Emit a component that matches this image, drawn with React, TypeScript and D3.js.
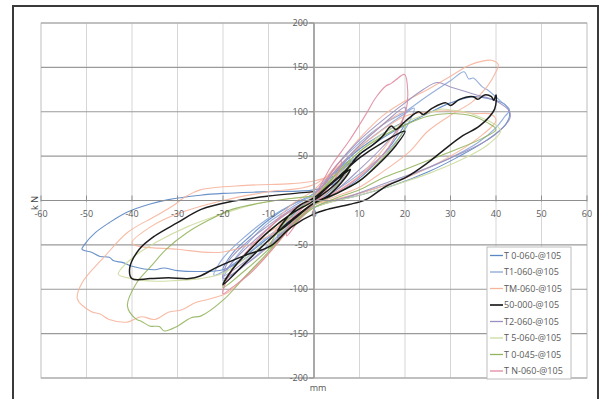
import React from 'react';
import * as d3 from 'd3';

type Pt = [number, number];

// axis ticks
const X_TICKS = [-60, -50, -40, -30, -20, -10, 0, 10, 20, 30, 40, 50, 60];
const Y_TICKS = [-200, -150, -100, -50, 0, 50, 100, 150, 200];

// series names + colours (legend order)
const SERIES_NAMES = [
  'T 0-060-@105',
  'T1-060-@105',
  'TM-060-@105',
  '50-000-@105',
  'T2-060-@105',
  'T 5-060-@105',
  'T 0-045-@105',
  'T N-060-@105',
];
const SERIES_COLORS = ['#5a86c4', '#8aa6d8', '#f6b49c', '#111111', '#9a90bf', '#cddc9e', '#93b55e', '#e08aa0'];

// hysteresis paths (mm, kN)
const T0_060: Pt[] = [
  [0, 0], [3, 20], [6, 38], [8, 45], [6, 25], [3, 8], [0, -2], [-3, -18], [-6, -35], [-8, -42], [-6, -25], [-3, -8], [0, 5],
  [5, 35], [10, 58], [15, 75], [20, 88], [18, 70], [14, 45], [10, 25], [5, 8], [0, -5], [-5, -22], [-10, -42], [-15, -62],
  [-20, -78], [-18, -60], [-14, -40], [-10, -22], [-5, -5], [0, 8],
  [5, 30], [10, 52], [15, 70], [20, 85], [25, 98], [30, 110], [35, 117], [39, 114], [42, 108], [43, 97], [42, 85],
  [38, 68], [32, 50], [25, 32], [18, 18], [10, 6], [5, 0], [0, -8], [-5, -25], [-10, -45], [-15, -65], [-20, -78],
  [-25, -80], [-30, -79], [-33, -76], [-35, -78], [-40, -74], [-42, -70], [-44, -68], [-45, -64], [-47, -63],
  [-49, -58], [-50, -57], [-51, -55], [-50.5, -50],
  [-48, -36], [-45, -25], [-41, -13], [-36, -4], [-32, 1], [-25, 6], [-20, 8], [-10, 10], [0, 12], [5, 20],
];
const T1_060: Pt[] = [
  [0, 0], [4, 25], [8, 50], [6, 30], [3, 10], [0, -5], [-4, -25], [-8, -45], [-6, -25], [-3, -8], [0, 5],
  [5, 35], [10, 60], [15, 80], [20, 98], [22, 104], [20, 80], [16, 55], [10, 30], [5, 12], [0, -3], [-5, -25],
  [-10, -50], [-15, -72], [-20, -90], [-18, -70], [-14, -45], [-10, -25], [-5, -8], [0, 8],
  [5, 40], [10, 65], [15, 85], [20, 100], [25, 118], [30, 135], [33, 145], [34, 137], [35, 138], [37, 128], [38, 125],
  [41, 112], [43, 102], [42, 95], [40, 82], [36, 65], [30, 48], [22, 30], [15, 16], [8, 5], [0, -8], [-10, -40],
  [-15, -62], [-20, -80], [-22, -84], [-20, -65], [-15, -40], [-10, -20], [-5, -5], [0, 5],
];
const TM_060: Pt[] = [
  [0, 0], [4, 25], [8, 45], [6, 25], [2, 5], [0, -5], [-5, -30], [-10, -50], [-8, -30], [-4, -10], [0, 5],
  [5, 35], [10, 62], [15, 85], [20, 100], [18, 78], [14, 50], [10, 28], [5, 10], [0, -5],
  [-10, -40], [-20, -58], [-30, -55], [-40, -48], [-36, -30], [-30, -15], [-20, 0], [-10, 10], [0, 18],
  [10, 60], [20, 95], [26, 100], [30, 101], [35, 98], [39, 97], [40, 90], [36, 70], [30, 50], [20, 25], [10, 8], [0, -5],
  [-5, -20], [-10, -35], [-5, -5], [0, 12],
  [5, 40], [10, 70], [15, 95], [20, 112], [25, 125], [30, 140], [34, 152], [37, 157], [39, 158], [40.5, 153],
  [40, 145], [38, 128],
  [35, 112], [30, 96], [25, 78], [21, 55], [15, 32], [10, 15], [5, 5], [0, -5], [-5, -30], [-10, -60], [-15, -85],
  [-19, -104], [-23, -111], [-26, -115], [-29, -123], [-32, -126], [-35, -134], [-38, -131], [-41, -137], [-45, -134],
  [-47, -128], [-49, -125], [-52, -111], [-51, -93],
  [-46, -63], [-41, -36], [-35, -18], [-31, -6], [-28, 5], [-25, 12], [-15, 17], [-5, 19], [0, 22], [5, 30],
];
const S50_000: Pt[] = [
  [0, 0], [3, 15], [6, 28], [8, 35], [6, 20], [3, 5], [0, -3], [-3, -15], [-6, -28], [-8, -35], [-6, -20], [-3, -5], [0, 3],
  [5, 25], [10, 48], [15, 65], [20, 78], [18, 62], [14, 40], [10, 22], [5, 8], [0, -3], [-5, -22], [-10, -45],
  [-15, -70], [-20, -95], [-18, -78], [-14, -55], [-10, -35], [-5, -15], [0, 0],
  [5, 20], [8, 40], [10, 52], [13, 63], [15, 72], [17, 84], [18, 80], [20, 89], [23, 100], [24, 97], [26, 104],
  [29, 110], [30, 107], [32, 114], [35, 117], [36, 114], [37.5, 119], [39, 117], [39.5, 113], [40, 119],
  [39.7, 103], [36.4, 84], [32.7, 73], [28.3, 56], [24.6, 41], [20.2, 26], [15.8, 16], [11.4, 1], [7.7, -4.5],
  [3, -10], [0, -15], [-5, -30], [-9.6, -51.5], [-14.7, -61], [-21.5, -75.7], [-25, -85], [-27.4, -88], [-32, -87],
  [-36, -88], [-40, -88], [-40.5, -76], [-38.4, -55], [-35, -40], [-30, -25], [-24.8, -10], [-18, -1], [-10, 5], [0, 10],
];
const T2_060: Pt[] = [
  [0, 0], [4, 22], [8, 42], [6, 22], [3, 5], [0, -5], [-4, -22], [-8, -40], [-6, -20], [-3, -5], [0, 5],
  [5, 35], [10, 62], [15, 85], [20, 105], [19, 85], [15, 60], [10, 35], [5, 12], [0, -5], [-5, -28], [-10, -52],
  [-15, -72], [-20, -88], [-19, -70], [-15, -48], [-10, -28], [-5, -10], [0, 5],
  [5, 40], [10, 68], [15, 90], [20, 110], [24, 125], [27, 133], [30, 128], [35, 120], [40, 112], [43, 100], [43, 92],
  [40, 75], [36, 62], [30, 48], [24, 35], [16, 20], [8, 5], [0, -8], [-10, -45], [-15, -68], [-20, -85],
  [-18, -70], [-12, -40], [-6, -15], [0, 2],
];
const T5_060: Pt[] = [
  [0, 0], [4, 22], [8, 40], [6, 20], [3, 5], [0, -5], [-4, -20], [-8, -38], [-6, -20], [-3, -5], [0, 5],
  [5, 30], [10, 55], [15, 75], [20, 88], [25, 98], [28, 103], [30, 102], [33, 100], [36, 95], [40, 85], [41, 78],
  [38, 62], [32, 45], [25, 30], [18, 18], [10, 6], [0, -8], [-5, -25], [-10, -45], [-15, -65], [-20, -82],
  [-25, -88], [-30, -90], [-35, -91], [-40, -88], [-43, -83], [-40, -65], [-35, -48], [-28, -30], [-20, -15], [-12, -3], [0, 5],
];
const T0_045: Pt[] = [
  [0, 0], [4, 25], [8, 45], [6, 25], [3, 5], [0, -5], [-5, -30], [-10, -55], [-8, -35], [-4, -12], [0, 3],
  [5, 30], [10, 55], [15, 72], [20, 85], [18, 65], [14, 42], [10, 22], [5, 8], [0, -5], [-5, -28], [-10, -55],
  [-15, -78], [-20, -98], [-18, -78], [-14, -55], [-10, -35], [-5, -15], [0, 0],
  [5, 30], [10, 55], [15, 72], [20, 85], [25, 95], [30, 98], [35, 95], [38, 88], [40, 80], [37, 70], [30, 55],
  [25, 45], [20, 35], [15, 25], [10, 12], [5, 3], [0, -8], [-5, -30], [-10, -58], [-15, -85], [-19.8, -111.5],
  [-24.8, -130], [-27, -132], [-30, -141.6], [-32.9, -147], [-34, -142], [-36, -141.6], [-38, -136], [-39, -134],
  [-41, -119], [-39, -93], [-35.8, -74],
  [-32.5, -55], [-28, -36.6], [-23, -21.8], [-18, -10], [-9.6, -1], [0, 5],
];
const TN_060: Pt[] = [
  [0, 0], [3, 25], [6, 45], [5, 28], [2, 8], [0, -3], [-3, -20], [-6, -40], [-5, -22], [-2, -6], [0, 5],
  [4, 40.6], [7.7, 67], [11.4, 97], [13.6, 116], [15.8, 129], [17, 132], [18, 136], [19.9, 142], [20.6, 123], [20.2, 100.7],
  [18.75, 82], [15.8, 55.6], [11.4, 33], [7.7, 18], [4, 6.8], [0.4, -0.8], [-3, -15], [-6, -35], [-10, -60],
  [-14, -82], [-18, -98], [-20, -105], [-19, -88], [-16, -65], [-12, -42], [-8, -22], [-4, -8], [0, 3],
];

const SERIES_DATA: Pt[][] = [T0_060, T1_060, TM_060, S50_000, T2_060, T5_060, T0_045, TN_060];
// draw order: black on top
const DRAW_ORDER = [0, 1, 2, 4, 5, 6, 7, 3];

const W = 602;
const H = 399;
const FONT = '"Open Sans", "Liberation Sans", sans-serif';

export default function App() {
  const x = d3.scaleLinear().domain([-60, 60]).range([41, 587]);
  const y = d3.scaleLinear().domain([-200, 200]).range([378, 23]);

  const line = d3
    .line<Pt>()
    .x((d) => x(d[0]))
    .y((d) => y(d[1]))
    .curve(d3.curveCatmullRom.alpha(0.5));

  const legendX = 487;
  const legendY = 247;

  return (
    <svg
      width={W}
      height={H}
      style={{ position: 'absolute', left: 0, top: 0, background: '#fff' }}
      fontFamily={FONT}
    >
      {/* outer frame */}
      <rect x={13} y={6} width={585} height={400} fill="#fff" stroke="#3a3a3a" strokeWidth={2} />

      {/* plot area */}
      <rect x={41} y={23} width={546} height={355} fill="#fff" stroke="#cfcfcf" strokeWidth={1} />

      {/* vertical grid */}
      {X_TICKS.map((t) => (
        <line key={'vx' + t} x1={x(t)} x2={x(t)} y1={y(200)} y2={y(-200)} stroke="#d6d6d6" strokeWidth={1} />
      ))}
      {/* horizontal grid */}
      {Y_TICKS.filter((t) => t !== 0).map((t) => (
        <line key={'hy' + t} x1={x(-60)} x2={x(60)} y1={y(t)} y2={y(t)} stroke="#9a9a9a" strokeWidth={1.2} />
      ))}

      {/* series */}
      {DRAW_ORDER.map((i) => (
        <path
          key={SERIES_NAMES[i]}
          d={line(SERIES_DATA[i]) || ''}
          fill="none"
          stroke={SERIES_COLORS[i]}
          strokeWidth={i === 3 ? 1.5 : 1.1}
          strokeLinejoin="round"
          opacity={i === 3 ? 0.95 : 0.9}
        />
      ))}

      {/* x axis */}
      <line x1={x(-60)} x2={x(60)} y1={y(0)} y2={y(0)} stroke="#8f8f8f" strokeWidth={1.2} />
      {X_TICKS.map((t) => (
        <line key={'xt' + t} x1={x(t)} x2={x(t)} y1={y(0) - 5} y2={y(0) + 1} stroke="#8f8f8f" strokeWidth={1} />
      ))}
      {X_TICKS.map((t) => (
        <text key={'xl' + t} x={x(t)} y={y(0) + 16} fontSize={9} fill="#5a5a5a" textAnchor="middle">
          {t}
        </text>
      ))}

      {/* y axis */}
      <line x1={x(0)} x2={x(0)} y1={y(200)} y2={y(-200)} stroke="#a8a8a8" strokeWidth={2} />
      {Y_TICKS.map((t) => (
        <line key={'yt' + t} x1={x(0) - 5} x2={x(0)} y1={y(t)} y2={y(t)} stroke="#8f8f8f" strokeWidth={1} />
      ))}
      {Y_TICKS.filter((t) => t !== 0).map((t) => (
        <text key={'yl' + t} x={x(0) - 6} y={y(t) + 3} fontSize={9} fill="#5a5a5a" textAnchor="end">
          {t}
        </text>
      ))}

      {/* axis titles */}
      <text x={35} y={203} fontSize={9} fill="#444" textAnchor="middle" transform="rotate(-90 35 203)" dy={3}>
        k N
      </text>
      <text x={318} y={391} fontSize={9} fill="#555" textAnchor="middle">
        mm
      </text>

      {/* legend */}
      <rect x={legendX} y={legendY} width={84} height={132} fill="#fff" stroke="#bdbdbd" strokeWidth={1} />
      {SERIES_NAMES.map((name, i) => {
        const cy = legendY + 8.5 + i * 16.5;
        return (
          <g key={'lg' + name}>
            <line
              x1={legendX + 3}
              x2={legendX + 16}
              y1={cy}
              y2={cy}
              stroke={SERIES_COLORS[i]}
              strokeWidth={i === 3 ? 1.6 : 1.3}
            />
            <text x={legendX + 17} y={cy + 3.2} fontSize={9} fill="#5a5a5a">
              {name}
            </text>
          </g>
        );
      })}
    </svg>
  );
}
